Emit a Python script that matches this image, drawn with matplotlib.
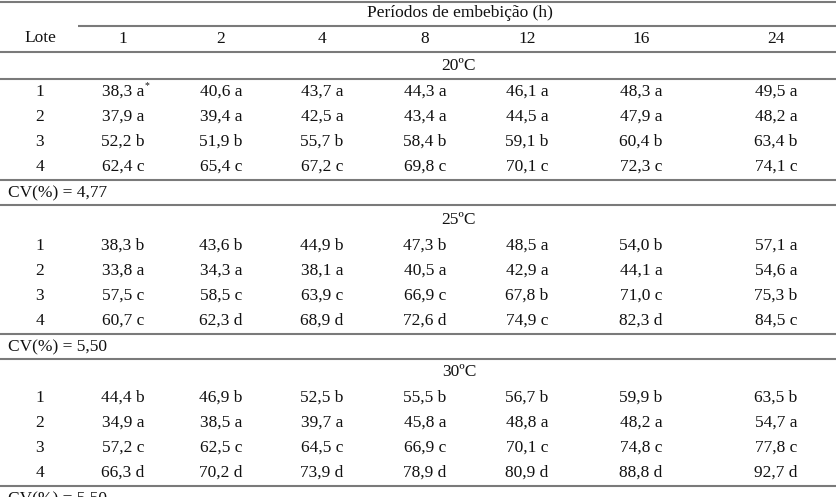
import matplotlib
matplotlib.use("Agg")
import matplotlib.pyplot as plt

# ---------------- data ----------------
periods = ["1", "2", "4", "8", "12", "16", "24"]
lotes = ["1", "2", "3", "4"]
temps = ["20ºC", "25ºC", "30ºC"]

v20 = [[38.3, 40.6, 43.7, 44.3, 46.1, 48.3, 49.5],
       [37.9, 39.4, 42.5, 43.4, 44.5, 47.9, 48.2],
       [52.2, 51.9, 55.7, 58.4, 59.1, 60.4, 63.4],
       [62.4, 65.4, 67.2, 69.8, 70.1, 72.3, 74.1]]
l20 = [["a", "a", "a", "a", "a", "a", "a"],
       ["a", "a", "a", "a", "a", "a", "a"],
       ["b", "b", "b", "b", "b", "b", "b"],
       ["c", "c", "c", "c", "c", "c", "c"]]

v25 = [[38.3, 43.6, 44.9, 47.3, 48.5, 54.0, 57.1],
       [33.8, 34.3, 38.1, 40.5, 42.9, 44.1, 54.6],
       [57.5, 58.5, 63.9, 66.9, 67.8, 71.0, 75.3],
       [60.7, 62.3, 68.9, 72.6, 74.9, 82.3, 84.5]]
l25 = [["b", "b", "b", "b", "a", "b", "a"],
       ["a", "a", "a", "a", "a", "a", "a"],
       ["c", "c", "c", "c", "b", "c", "b"],
       ["c", "d", "d", "d", "c", "d", "c"]]

v30 = [[44.4, 46.9, 52.5, 55.5, 56.7, 59.9, 63.5],
       [34.9, 38.5, 39.7, 45.8, 48.8, 48.2, 54.7],
       [57.2, 62.5, 64.5, 66.9, 70.1, 74.8, 77.8],
       [66.3, 70.2, 73.9, 78.9, 80.9, 88.8, 92.7]]
l30 = [["b", "b", "b", "b", "b", "b", "b"],
       ["a", "a", "a", "a", "a", "a", "a"],
       ["c", "c", "c", "c", "c", "c", "c"],
       ["d", "d", "d", "d", "d", "d", "d"]]

cvs = ["4,77", "5,50", "5,50"]

# ---------------- layout ----------------
W, H = 837, 497
fig = plt.figure(figsize=(W / 100, H / 100), dpi=100)
ax = fig.add_axes([0, 0, 1, 1])
ax.set_xlim(0, W)
ax.set_ylim(H, 0)
ax.axis("off")

FONT = "Liberation Serif"
FS = 12.5
TXT = "#111111"
LC = "#7a7a7a"
LW = 1.5

col_x = [123, 221, 322, 425, 527, 641, 776]
lote_x = 40


def hline(y, x0=0, x1=W):
    ax.plot([x0, x1], [y, y], color=LC, lw=LW, solid_capstyle="butt")


def txt(x, y, s, ha="center", **kw):
    return ax.text(x, y, s, ha=ha, va="center", fontsize=FS, family=FONT,
                   color=TXT, **kw)


def fmt(v):
    return f"{v:.1f}".replace(".", ",")


# header
hline(1.5)
txt(460, 13, "Períodos de embebição (h)")
hline(26, 78, W)
txt(lote_x, 38, "Lote")
for x, p in zip(col_x, periods):
    txt(x, 39, p)
hline(52)

blocks = [(v20, l20), (v25, l25), (v30, l30)]
block_top = [66, 220, 372]
star_text = None
for b, ((vals, lets), yt) in enumerate(zip(blocks, block_top)):
    txt(459, yt, temps[b])
    if b == 0:
        hline(79)
    for r, lote in enumerate(lotes):
        y = yt + 26 + 25 * r
        txt(lote_x, y, lote)
        for c, x in enumerate(col_x):
            t = txt(x, y, f"{fmt(vals[r][c])} {lets[r][c]}")
            if b == 0 and r == 0 and c == 0:
                star_text = (t, y)
    yl = yt + 26 + 25 * 3 + 13
    hline(yl)
    txt(8, yl + 13, f"CV(%) = {cvs[b]}", ha="left")
    if b < 2:
        hline(yl + 25)

# superscript asterisk after first cell
fig.canvas.draw()
t, y = star_text
bb = t.get_window_extent()
xr = ax.transData.inverted().transform((bb.x1, bb.y0))[0]
ax.text(xr + 0.5, y - 6, "*", ha="left", va="center", fontsize=7,
        family=FONT, color=TXT)

fig.savefig("out.png", dpi=100)
